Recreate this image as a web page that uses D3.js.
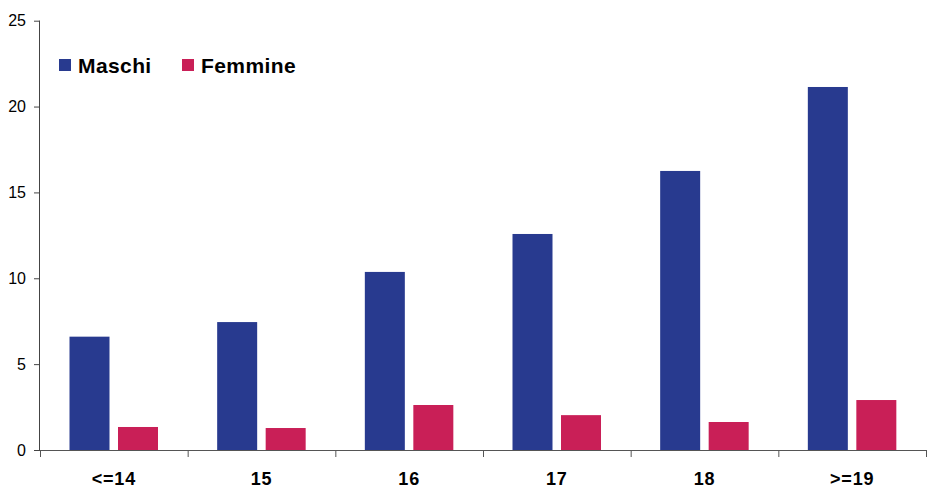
<!DOCTYPE html>
<html>
<head>
<meta charset="utf-8">
<script src="https://cdn.jsdelivr.net/npm/d3@7/dist/d3.min.js"></script>
<style>
  html, body { margin: 0; padding: 0; background: #fff; overflow: hidden; }
  svg { display: block; font-family: "Liberation Sans", Arial, sans-serif; }
</style>
</head>
<body>
<svg id="chart" width="927" height="488"></svg>
<script>
// Age classes and values per sex
const categories = ["<=14", "15", "16", "17", "18", ">=19"];
const maschi = [6.6, 7.45, 10.37, 12.58, 16.25, 21.14];
const femmine = [1.34, 1.28, 2.62, 2.03, 1.63, 2.91];
const yTicks = [0, 5, 10, 15, 20, 25];
const seriesNames = ["Maschi", "Femmine"];
const seriesColors = ["#283a8f", "#c91f57"];

const svg = d3.select("#chart");
const x0 = 40, x1 = 926, yBase = 450, yTop = 20.7;

const x = d3.scaleBand().domain(categories).range([x0, x1]).paddingInner(0).paddingOuter(0);
// bar 40px wide, ~8.5px between the pair, ~29.5px on the left
const xInner = d3.scaleBand().domain(seriesNames)
  .range([29.5, 29.5 + 88.5]).paddingInner(8.5 / 48.5).paddingOuter(0);
const y = d3.scaleLinear().domain([0, 25]).range([yBase, yTop]);

const data = categories.map((c, i) => ({ cat: c, values: [maschi[i], femmine[i]] }));

// Bars
const groups = svg.append("g").selectAll("g").data(data).join("g")
  .attr("transform", d => `translate(${x(d.cat)},0)`);
groups.selectAll("rect")
  .data(d => d.values.map((v, j) => ({ name: seriesNames[j], v, color: seriesColors[j] })))
  .join("rect")
  .attr("x", d => xInner(d.name))
  .attr("width", xInner.bandwidth())
  .attr("y", d => y(d.v))
  .attr("height", d => yBase - y(d.v))
  .attr("fill", d => d.color);

// Y axis
const yAxis = svg.append("g").attr("transform", `translate(${x0},0)`)
  .call(d3.axisLeft(y).tickValues(yTicks).tickSize(6).tickPadding(8).tickFormat(d3.format("d")));
yAxis.select(".domain").attr("stroke", "#444").attr("d", `M-0.5,${y(25)}V${yBase}`);
yAxis.selectAll(".tick line").attr("stroke", "#444");
yAxis.selectAll(".tick text").attr("font-size", 16).attr("fill", "#000")
  .attr("font-family", "Liberation Sans, Arial, sans-serif");

// X axis line with boundary ticks
const xAxisG = svg.append("g");
xAxisG.append("line").attr("x1", x0).attr("x2", x1).attr("y1", yBase + 0.5).attr("y2", yBase + 0.5)
  .attr("stroke", "#555");
const bounds = categories.map(c => x(c)).concat([x1]);
xAxisG.selectAll("line.tk").data(bounds).join("line").attr("class", "tk")
  .attr("x1", d => d + 0.5).attr("x2", d => d + 0.5)
  .attr("y1", yBase).attr("y2", yBase + 7).attr("stroke", "#555");
xAxisG.selectAll("text").data(categories).join("text")
  .attr("x", d => x(d) + x.bandwidth() / 2)
  .attr("y", 485)
  .attr("text-anchor", "middle")
  .attr("font-size", 18).attr("letter-spacing", 0.8).attr("font-weight", "bold").attr("fill", "#000")
  .text(d => d);

// Legend
const legendX = [59, 182];
const legend = svg.append("g").selectAll("g").data(seriesNames).join("g")
  .attr("transform", (d, i) => `translate(${legendX[i]},59)`);
legend.append("rect").attr("width", 12).attr("height", 12)
  .attr("fill", (d, i) => seriesColors[i]);
legend.append("text").attr("x", 19).attr("y", 13.5)
  .attr("font-size", 21).attr("letter-spacing", 0.4).attr("font-weight", "bold").attr("fill", "#000")
  .text(d => d);
</script>
</body>
</html>
